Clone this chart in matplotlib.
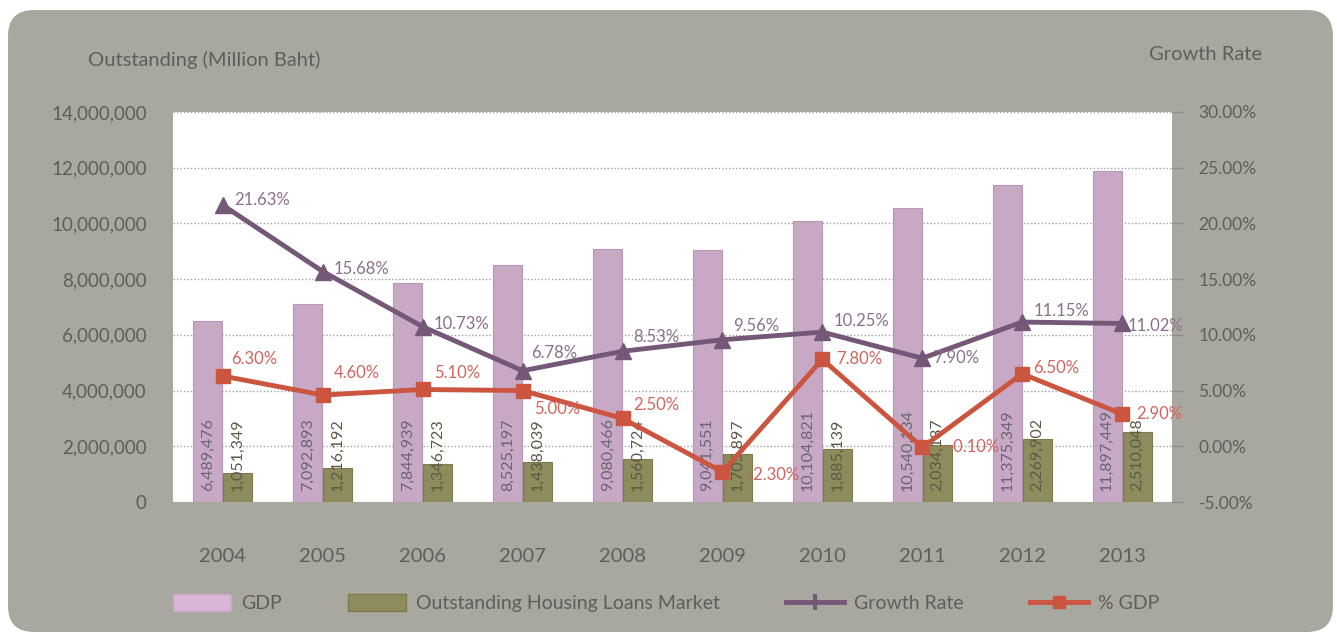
import matplotlib.pyplot as plt
import numpy as np
from matplotlib.patches import FancyBboxPatch, Patch
from matplotlib.lines import Line2D

years = ['2004', '2005', '2006', '2007', '2008', '2009', '2010', '2011', '2012', '2013']
gdp = [6489476, 7092893, 7844939, 8525197, 9080466, 9041551, 10104821, 10540134, 11375349, 11897449]
loans = [1051349, 1216192, 1346723, 1438039, 1560724, 1705897, 1885139, 2034187, 2269902, 2510048]
growth = [21.63, 15.68, 10.73, 6.78, 8.53, 9.56, 10.25, 7.90, 11.15, 11.02]
pct_gdp = [6.30, 4.60, 5.10, 5.00, 2.50, -2.30, 7.80, -0.10, 6.50, 2.90]

# label nudges in points (dx, dy)
growth_off = [(8, 4), (8, 2), (8, 2), (6, 13), (8, 10), (8, 10), (8, 8), (8, 0), (8, 8), (4, -2)]
pct_off = [(6, 12), (8, 16), (8, 12), (8, -13), (8, 10), (18, -2), (10, 0), (18, 0), (8, 4), (10, 0)]

plt.rcParams['font.family'] = ['Lato', 'DejaVu Sans']

GDP_C = '#c7a9c6'
LOAN_C = '#8e8b5c'
GROWTH_C = '#755878'
PCT_C = '#cc5540'
TXT = '#5e5e5a'
PANEL = '#a9a89f'

fig = plt.figure(figsize=(13.37, 6.41), dpi=100, facecolor='white')

# rounded grey panel behind everything, in pixel units
bg = fig.add_axes([0, 0, 1, 1], zorder=0)
bg.set_xlim(0, 1337)
bg.set_ylim(641, 0)
bg.axis('off')
bg.add_patch(FancyBboxPatch((8, 10), 1325, 622, boxstyle='round,pad=0,rounding_size=26',
                            fc=PANEL, ec='none'))

ax = fig.add_axes([173 / 1337, 1 - 502 / 641, 999 / 1337, 390 / 641], zorder=1)
ax.set_facecolor('white')
x = np.arange(len(years))
w = 0.29
ax.bar(x - 0.15, gdp, w, color=GDP_C, edgecolor='#b597b4', linewidth=0.8, zorder=2)
ax.bar(x + 0.15, loans, w, color=LOAN_C, edgecolor='#7d7a4e', linewidth=0.8, zorder=2)
for i in range(len(years)):
    ax.text(x[i] - 0.15, 380000, f'{gdp[i]:,}', rotation=90, ha='center', va='bottom',
            fontsize=11.5, color='#6a6470', zorder=3)
    ax.text(x[i] + 0.15, 380000, f'{loans[i]:,}', rotation=90, ha='center', va='bottom',
            fontsize=11.5, color='#5a5848', zorder=3)

ax.set_xlim(-0.5, 9.5)
ax.set_ylim(0, 14000000)
ax.set_yticks(np.arange(0, 14000001, 2000000))
ax.set_yticklabels([f'{v:,}' for v in range(0, 14000001, 2000000)])
ax.set_xticks(x)
ax.set_xticklabels(years)
ax.grid(axis='y', linestyle=(0, (1, 1.5)), color='#a0a0a0', linewidth=1, zorder=1)
ax.set_axisbelow(True)
ax.tick_params(axis='y', length=0, pad=19, labelsize=13.5, labelcolor=TXT)
ax.tick_params(axis='x', length=0, pad=33, labelsize=14.5, labelcolor=TXT)
for s in ax.spines.values():
    s.set_visible(False)

ax2 = ax.twinx()
ax2.set_ylim(-5, 30)
ax2.set_yticks(np.arange(-5, 31, 5))
ax2.set_yticklabels([f'{v:.2f}%' for v in range(-5, 31, 5)])
ax2.tick_params(axis='y', length=8, width=1, color='#8a8a86', pad=11, labelsize=12.5,
                labelcolor=TXT)
for s in ax2.spines.values():
    s.set_visible(False)

ax2.plot(x, growth, color=GROWTH_C, lw=3.5, marker='^', ms=11, zorder=4)
ax2.plot(x, pct_gdp, color=PCT_C, lw=3.5, marker='s', ms=10, zorder=5)
for i in range(len(years)):
    ax2.annotate(f'{growth[i]:.2f}%', (x[i], growth[i]), xytext=growth_off[i],
                 textcoords='offset points', ha='left', va='center', fontsize=12,
                 color='#8c6f8c', zorder=6)
    ax2.annotate(f'{pct_gdp[i]:.2f}%', (x[i], pct_gdp[i]), xytext=pct_off[i],
                 textcoords='offset points', ha='left', va='center', fontsize=12,
                 color='#d2645c', zorder=6)

fig.text(88 / 1337, 1 - 60 / 641, 'Outstanding (Million Baht)', fontsize=14.5, color=TXT,
         ha='left', va='center')
fig.text(1262 / 1337, 1 - 55 / 641, 'Growth Rate', fontsize=14.5, color=TXT,
         ha='right', va='center')

handles = [
    Patch(fc='#d9b6d6', ec='#c9a6c6'),
    Patch(fc=LOAN_C, ec='#7d7a4e'),
    Line2D([], [], color=GROWTH_C, lw=3.5, marker='|', ms=12, mew=3),
    Line2D([], [], color=PCT_C, lw=3.5, marker='s', ms=8),
]
fig.legend(handles, ['GDP', 'Outstanding Housing Loans Market', 'Growth Rate', '% GDP'],
           loc='center', bbox_to_anchor=(666 / 1337, 1 - 603 / 641), ncol=4, frameon=False,
           fontsize=14, labelcolor=TXT, handlelength=3.0, handleheight=1.0,
           columnspacing=3.4, handletextpad=0.5)

fig.savefig('out.png', dpi=100, facecolor='white')
